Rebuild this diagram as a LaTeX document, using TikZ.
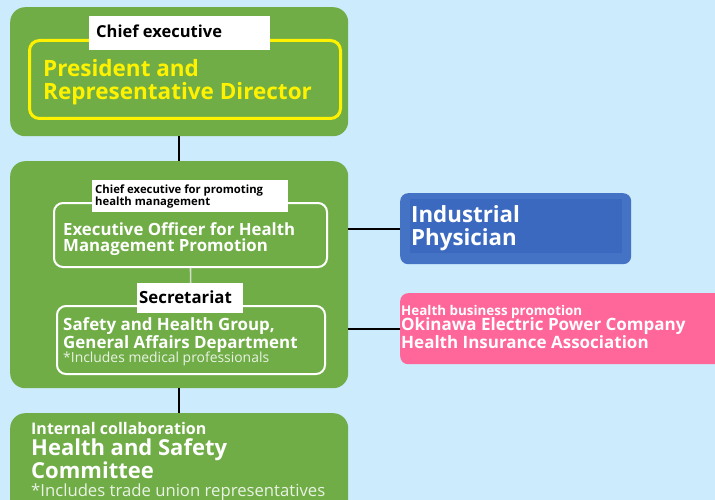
\documentclass[tikz,border=0pt]{standalone}
\usepackage{fontspec}
\setmainfont{Open Sans}
\usepackage{xcolor}
\usepackage{tikz}
\usetikzlibrary{positioning}
\definecolor{skyblue}{HTML}{CCEBFC}
\definecolor{leafgreen}{HTML}{70AD47}
\definecolor{officeblue}{HTML}{4472C4}
\definecolor{deepblue}{HTML}{3B69C0}
\definecolor{rosepink}{HTML}{FF6699}
\definecolor{paleline}{HTML}{D3DDCB}
\definecolor{softwhite}{HTML}{E9F2E3}

\tikzset{
    panel/.style={fill=leafgreen, rounded corners=15pt, anchor=north west, inner sep=0pt},
    frame/.style={draw=white, line width=2pt, rounded corners=9pt, anchor=north west, inner sep=0pt},
    tag/.style={fill=white, anchor=north west, inner sep=0pt},
    tagtext/.style={anchor=base west, inner sep=0pt, align=left, text=black, font=\bfseries#1},
    words/.style={anchor=base west, inner sep=0pt, align=left, text=white, font=\bfseries#1},
    link/.style={draw=black, line width=2.4pt}
}

\begin{document}
\begin{tikzpicture}[x=1pt, y=-1pt]
    \path[use as bounding box, fill=skyblue] (0,0) rectangle (715,500);
    \clip (0,0) rectangle (715,500);

    % chief executive
    \node[panel, minimum width=338pt, minimum height=129pt] (chiefpanel) at (10,7) {};
    \node[draw=yellow, line width=3pt, rounded corners=10pt, anchor=north west, inner sep=0pt,
          minimum width=311pt, minimum height=78pt] (presframe) at (28,39) {};
    \node[tag, minimum width=181pt, minimum height=34pt] (chieftag) at (89,16) {};
    \node[tagtext={\fontsize{16.5}{18}\selectfont}] (chieftext) at (96,38) {Chief executive};
    \node[words={\fontsize{22.5}{23}\selectfont}, text=yellow] (president) at (43,100)
        {President and\\Representative Director};

    % health management promotion
    \node[panel, minimum width=338pt, minimum height=227pt] (carepanel) at (10,161) {};
    \node[frame, minimum width=273pt, minimum height=64pt] (officerframe) at (53,202) {};
    \node[frame, minimum width=268pt, minimum height=68pt] (secretframe) at (56,305) {};
    \draw[paleline, line width=1.6pt] (officerframe.south) -- (secretframe.north);
    \node[tag, minimum width=196pt, minimum height=32pt] (promotag) at (92,180) {};
    \node[tagtext={\fontsize{11.3}{11.5}\selectfont}] (promotext) at (95,205)
        {Chief executive for promoting\\health management};
    \node[words={\fontsize{16.8}{16.7}\selectfont}] (officer) at (63,251.7)
        {Executive Officer for Health\\Management Promotion};
    \node[tag, minimum width=106pt, minimum height=30pt] (secrettag) at (137,283) {};
    \node[tagtext={\fontsize{16.8}{18}\selectfont}] (secrettext) at (139,303) {Secretariat};
    \node[words={\fontsize{16.9}{18.3}\selectfont}] (safety) at (63,348.3)
        {Safety and Health Group,\\General Affairs Department};
    \node[anchor=base west, inner sep=0pt, text=softwhite, font=\fontsize{13.9}{15}\selectfont]
        (medical) at (63,362.3) {*Includes medical professionals};

    % outside partners
    \node[fill=officeblue, rounded corners=8pt, anchor=north west, inner sep=0pt,
          minimum width=231pt, minimum height=71pt] (physician) at (400,193) {};
    \fill[deepblue] (410,199) rectangle (622,253);
    \node[words={\fontsize{22.3}{23.4}\selectfont}] (physictext) at (411,245.7)
        {Industrial\\Physician};
    \node[fill=rosepink, rounded corners=8pt, anchor=north west, inner sep=0pt,
          minimum width=330pt, minimum height=71pt] (insurance) at (400,293) {};
    \node[words={\fontsize{13.4}{14}\selectfont}] (bizpromo) at (401,315)
        {Health business promotion};
    \node[words={\fontsize{17}{16.3}\selectfont}] (okiden) at (401,348.3)
        {Okinawa Electric Power Company\\Health Insurance Association};

    % committee
    \node[panel, minimum width=338pt, minimum height=102pt] (committee) at (10,413) {};
    \node[words={\fontsize{16}{17}\selectfont}] (collab) at (31,434) {Internal collaboration};
    \node[words={\fontsize{22}{22.6}\selectfont}] (comtext) at (31,478.3)
        {Health and Safety\\Committee};
    \node[anchor=base west, inner sep=0pt, text=softwhite, font=\fontsize{16.7}{18}\selectfont]
        (union) at (31,496) {*Includes trade union representatives};

    \draw[link] (chiefpanel.south) -- (carepanel.north);
    \draw[link] (carepanel.south) -- (committee.north);
    \draw[link] (carepanel.east |- physician.west) -- (physician.west);
    \draw[link] (carepanel.east |- insurance.west) -- (insurance.west);
\end{tikzpicture}
\end{document}
